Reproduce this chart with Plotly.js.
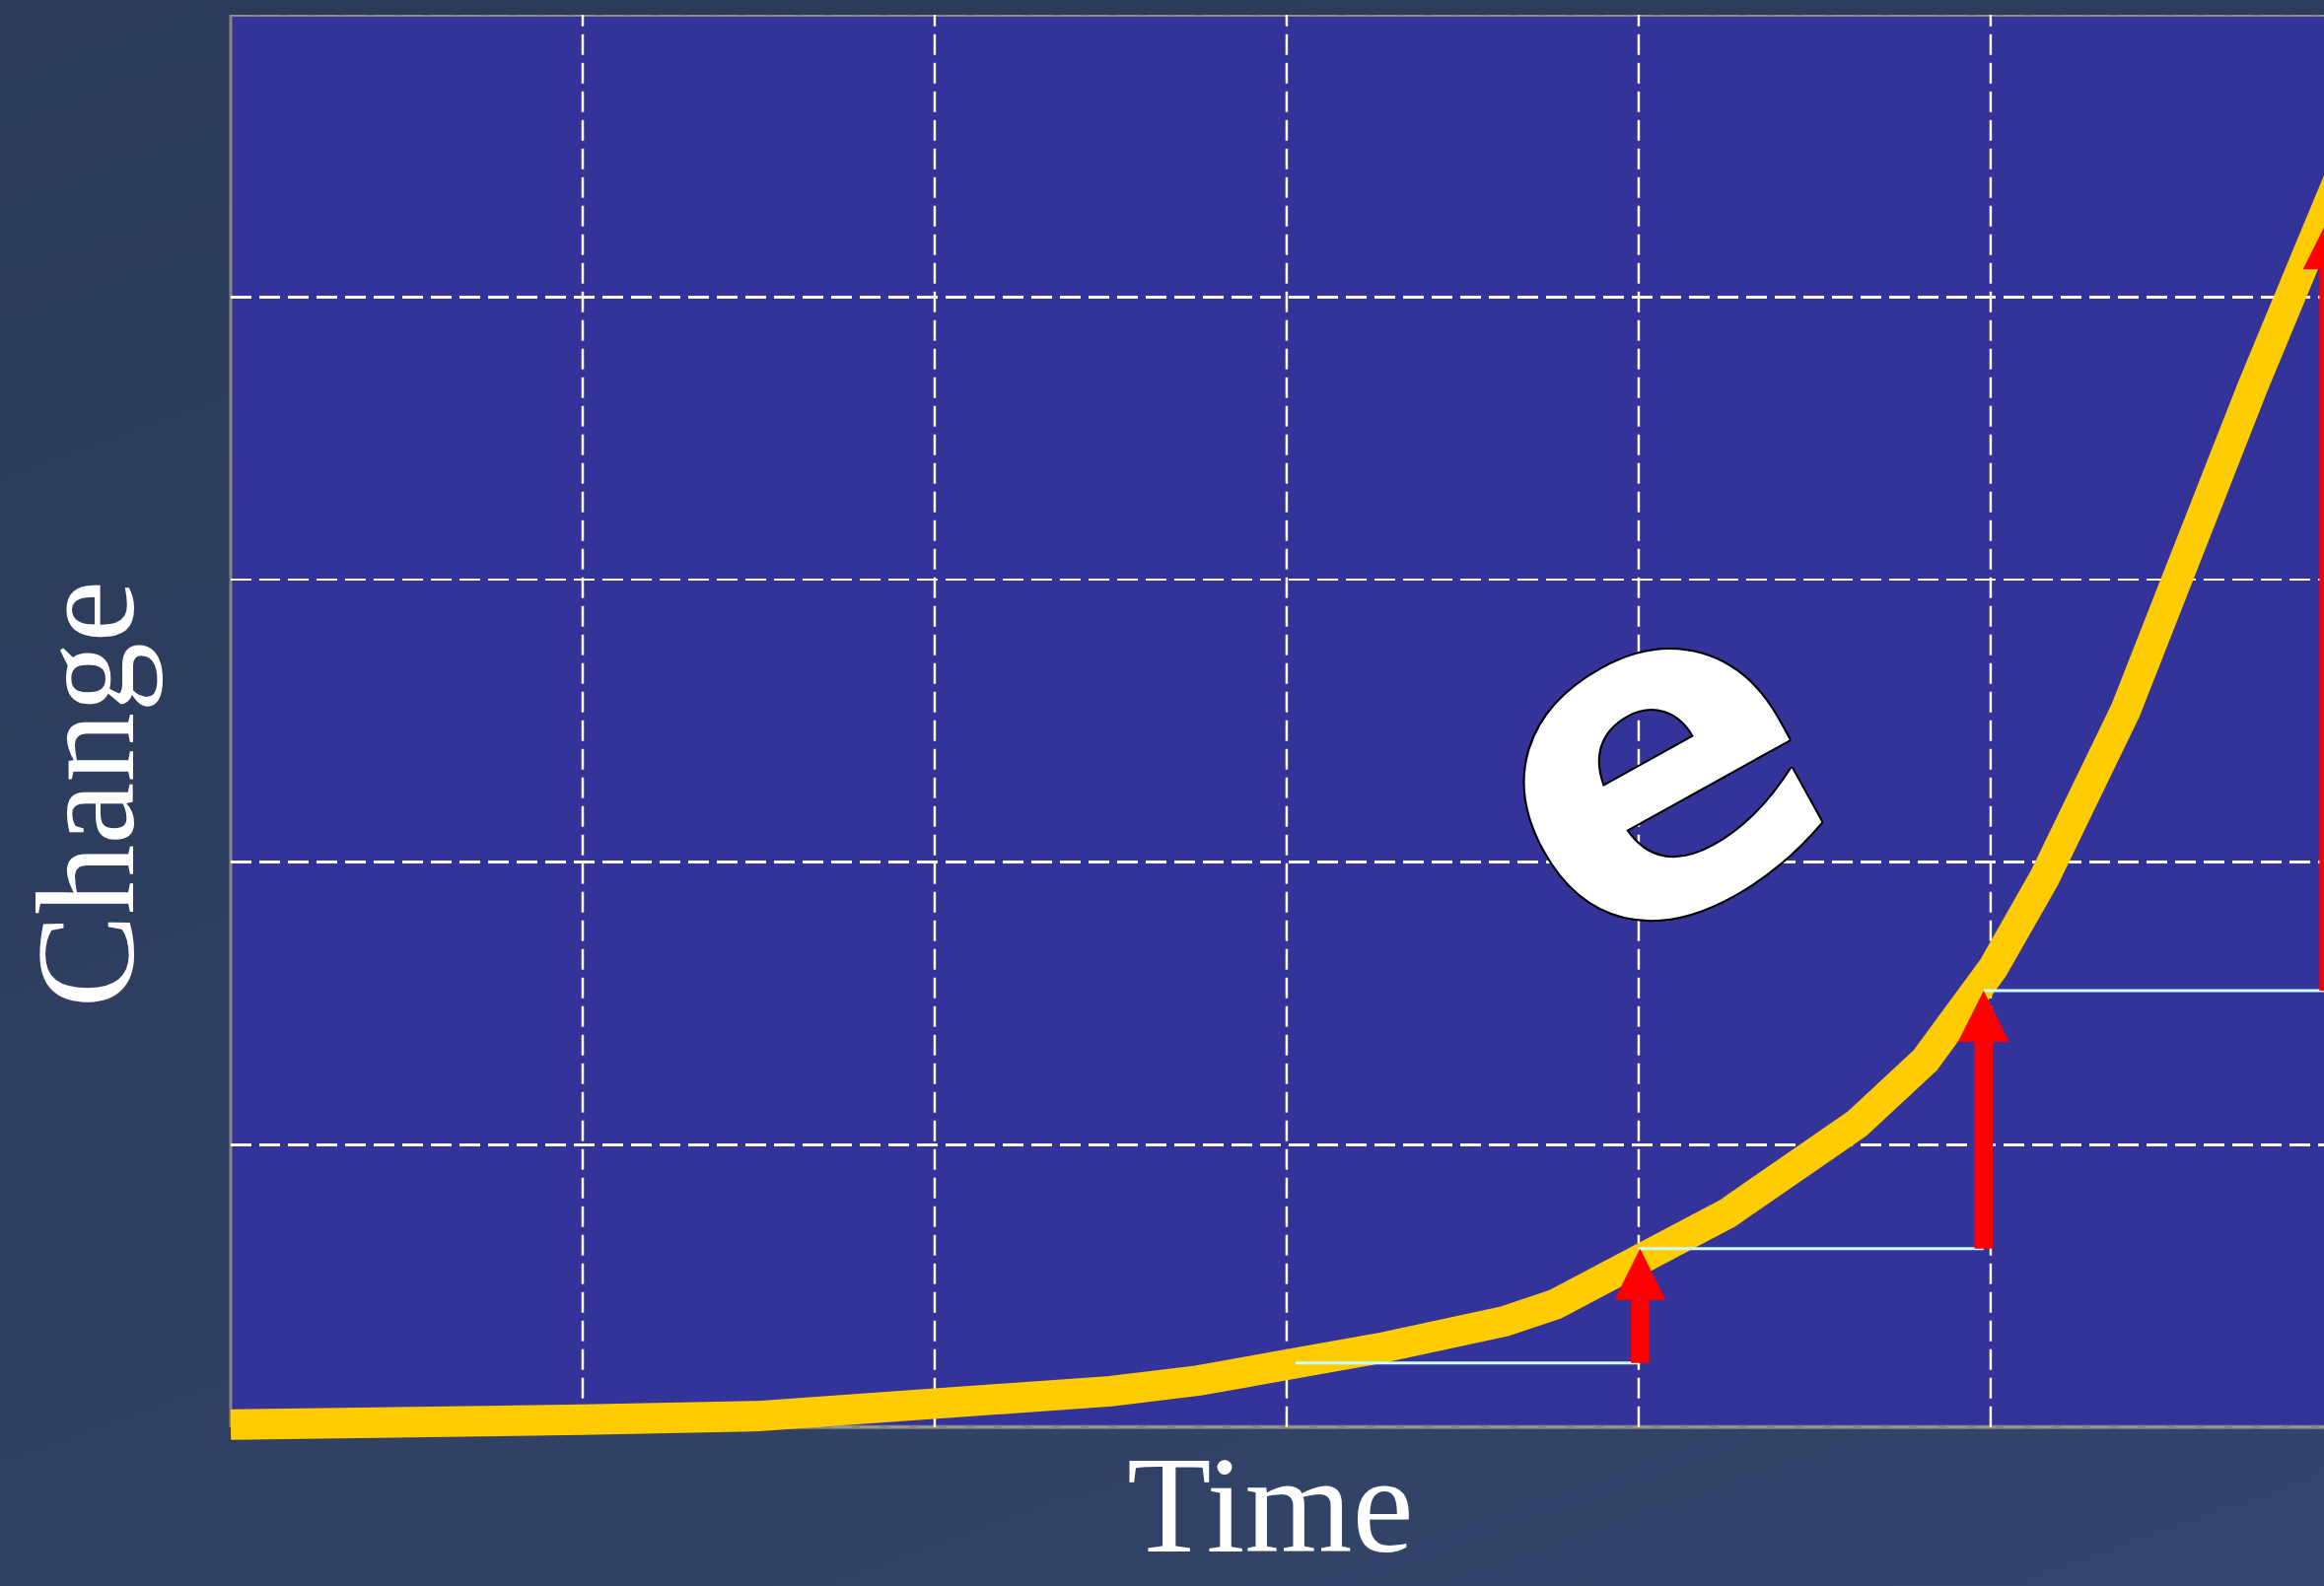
<!DOCTYPE html>
<html>
<head>
<meta charset="utf-8">
<script src="https://cdn.plot.ly/plotly-3.0.1.min.js"></script>
<style>
  html, body { margin: 0; padding: 0; overflow: hidden; width: 2357px; height: 1609px;
    background: linear-gradient(160deg, #2b3a5a 0%, #2f3f61 50%, #33456b 100%); }
  #chart { width: 2357px; height: 1609px; }
</style>
</head>
<body>
<div id="chart"></div>
<script>
// ---- data ----
const curveX = [0, 0.5, 1.0, 1.5, 2.0, 2.5, 2.75, 3.0, 3.263, 3.62, 3.763, 4.252, 4.62, 4.815, 5.007, 5.152, 5.383, 5.745, 6.0];
const curveY = [0.009, 0.009, 0.026, 0.039, 0.076, 0.127, 0.165, 0.216, 0.279, 0.375, 0.435, 0.757, 1.074, 1.30, 1.626, 1.943, 2.537, 3.685, 4.45];

const stepX0 = [3.025, 4.0, 4.98];
const stepX1 = [4.0, 4.98, 5.96];
const stepY  = [0.227, 0.632, 1.545];

const arrowX    = [4.004, 4.98, 5.96];
const arrowBase = [0.227, 0.632, 1.545];
const arrowTip  = [0.632, 1.545, 4.28];

const xGridVals = [1, 2, 3, 4, 5];
const yGridVals = [1, 2, 3, 4];

const xTitle = "Time";
const yTitle = "Change";
const bigLetter = "e";

// ---- layout constants ----
const W = 2357, H = 1609;
const M = {l: 234, r: 0, t: 15, b: 144};
const xRange = [0, 5.947];
const yRange = [-0.06, 5];
const pxPerY = (H - M.t - M.b) / (yRange[1] - yRange[0]);
const HEAD_W = 52, HEAD_H = 52, SHAFT_W = 18.5;

const gridColor = '#fbf8dc';
const gridDash = '21px,8px';
const shapes = [];

// blue plot panel from y=0 to top
shapes.push({type: 'rect', layer: 'below', xref: 'paper', yref: 'y', x0: 0, x1: 1, y0: 0, y1: 5,
  fillcolor: '#333399', line: {width: 0}});

// vertical dashed gridlines, only inside the panel
xGridVals.forEach(v => {
  shapes.push({type: 'line', layer: 'below', xref: 'x', yref: 'y', x0: v, x1: v, y0: 0, y1: 5,
    line: {color: gridColor, width: 2.5, dash: gridDash}});
});

// frame: left, top, bottom
shapes.push({type: 'line', layer: 'between', xref: 'paper', yref: 'y', x0: 0, x1: 0, y0: 0, y1: 5,
  line: {color: '#858585', width: 3}});
[0, 5].forEach(v => {
  shapes.push({type: 'line', layer: 'between', xref: 'paper', yref: 'y', x0: 0, x1: 1, y0: v, y1: v,
    line: {color: '#858585', width: 4}});
  shapes.push({type: 'line', layer: 'between', xref: 'paper', yref: 'y', x0: 0, x1: 1, y0: v, y1: v,
    line: {color: '#9c9b94', width: 1.5, dash: gridDash}});
});

// light blue step lines
for (let i = 0; i < stepY.length; i++) {
  shapes.push({type: 'line', layer: 'above', xref: 'x', yref: 'y',
    x0: stepX0[i], x1: stepX1[i], y0: stepY[i], y1: stepY[i],
    line: {color: '#ccffff', width: 3}});
}

// red arrows
for (let i = 0; i < arrowX.length; i++) {
  const headBase = arrowTip[i] - HEAD_H / pxPerY;
  shapes.push({type: 'rect', layer: 'above', xref: 'x', yref: 'y',
    xsizemode: 'pixel', xanchor: arrowX[i], x0: -SHAFT_W / 2, x1: SHAFT_W / 2,
    y0: arrowBase[i], y1: headBase,
    fillcolor: '#ff0000', line: {width: 0}});
  shapes.push({type: 'path', layer: 'above', xref: 'x', yref: 'y',
    xsizemode: 'pixel', ysizemode: 'pixel', xanchor: arrowX[i], yanchor: arrowTip[i],
    path: `M ${-HEAD_W / 2} ${-HEAD_H} L ${HEAD_W / 2} ${-HEAD_H} L 0 0 Z`,
    fillcolor: '#ff0000', line: {width: 0}});
}

const outline = '2px 0 0 #000, -2px 0 0 #000, 0 2px 0 #000, 0 -2px 0 #000, ' +
  '1.5px 1.5px 0 #000, -1.5px -1.5px 0 #000, 1.5px -1.5px 0 #000, -1.5px 1.5px 0 #000';

const annotations = [
  {text: xTitle, xref: 'paper', yref: 'paper', x: 0.4965, y: -0.0425, xanchor: 'center', yanchor: 'middle',
   showarrow: false, font: {family: 'Liberation Serif', size: 140, color: '#ffffff'}},
  {text: yTitle, xref: 'paper', yref: 'paper', x: -0.0693, y: 0.4548, xanchor: 'center', yanchor: 'middle',
   textangle: -90, showarrow: false, font: {family: 'Liberation Serif', size: 142, color: '#ffffff'}},
  {text: bigLetter, xref: 'x', yref: 'y', x: 4.022, y: 2.376, xanchor: 'center', yanchor: 'middle',
   textangle: -29, showarrow: false,
   font: {family: 'DejaVu Sans', weight: 'bold', size: 463, color: '#ffffff', shadow: outline}}
];

const traces = [{
  x: curveX, y: curveY, type: 'scatter', mode: 'lines',
  line: {color: '#ffcc00', width: 31}, hoverinfo: 'skip'
}];

const layout = {
  width: W, height: H, margin: M,
  paper_bgcolor: 'rgba(0,0,0,0)', plot_bgcolor: 'rgba(0,0,0,0)',
  showlegend: false,
  xaxis: {range: xRange, showgrid: false, zeroline: false, showticklabels: false, ticks: '',
    showline: false, fixedrange: true},
  yaxis: {range: yRange, tickmode: 'array', tickvals: yGridVals, showgrid: true, gridcolor: gridColor,
    gridwidth: 2.5, griddash: gridDash, zeroline: false, showticklabels: false, ticks: '',
    showline: false, fixedrange: true},
  shapes: shapes,
  annotations: annotations
};

Plotly.newPlot('chart', traces, layout, {displayModeBar: false, staticPlot: true});
</script>
</body>
</html>
